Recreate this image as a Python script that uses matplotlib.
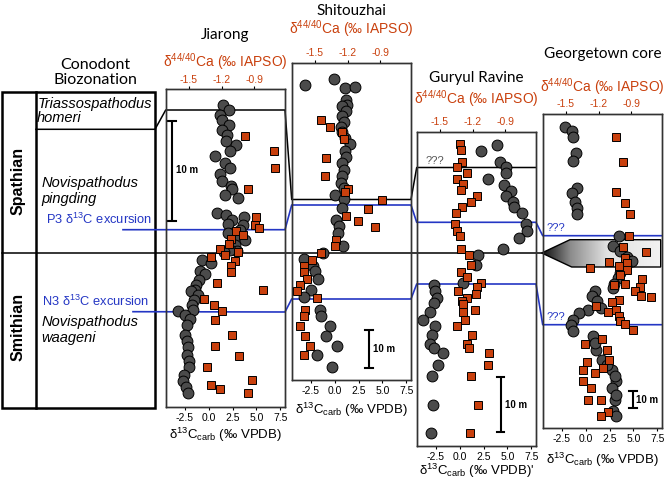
import numpy as np
import matplotlib as mpl
import matplotlib.pyplot as plt
from matplotlib.patches import Polygon, Rectangle
from matplotlib.colors import LinearSegmentedColormap

mpl.rcParams['axes.unicode_minus'] = False
mpl.rcParams['mathtext.fontset'] = 'custom'
mpl.rcParams['mathtext.rm'] = 'Liberation Sans'
mpl.rcParams['mathtext.it'] = 'Liberation Sans:italic'
mpl.rcParams['mathtext.bf'] = 'Liberation Sans:bold'
plt.rcParams['font.family'] = ['Liberation Sans', 'DejaVu Sans']

# ---- data: d13C (circles) and d44/40Ca (squares) vs height (m) ----
jr_c13 = [1.51, 2.11, 1.17, 1.44, 2.14, 1.44, 1.93, 1.86, 2.84, 2.28, 0.65, 1.72, 2.28, 1.17, 1.44,
          2.38, 2.46, 1.76, 3.11, 0.92, 1.86, 2.46, 3.68, 2.04, 3.61, 3.32, 2.91, 3.78, 2.74, 2.98,
          2.22, 2.04, 1.62, -0.65, 0.29, -0.92, -0.40, -1.00, -1.28, -1.45, -1.80, -1.10, -1.55, -1.70,
          -1.62, -3.19, -2.49, -1.97, -2.25, -2.49, -2.25, -2.15, -2.25, -2.04, -2.04, -2.60, -2.67,
          -2.39, -2.15]
jr_c_h = [30.2, 29.7, 29.2, 28.7, 28.2, 27.7, 27.2, 26.6, 26.2, 25.6, 25.1, 24.4, 23.9, 23.3, 22.6,
          22.1, 21.8, 21.2, 20.9, 19.4, 19.2, 18.7, 19.0, 18.3, 18.2, 17.7, 17.1, 16.7, 16.2, 15.6,
          15.7, 17.4, 15.5, 14.7, 14.4, 13.6, 13.3, 12.7, 12.2, 11.7, 11.6, 11.2, 10.7, 10.2,
          9.7, 9.6, 9.2, 8.8, 8.2, 7.2, 6.6, 6.0, 5.2, 4.6, 4.0, 3.2, 2.6, 2.0, 1.4]
jr_ca = [-0.988, -0.72, -0.709, -0.958, -0.882, -0.897, -0.86, -1.07, -1.003, -1.11, -1.131, -1.21,
         -1.17, -1.049, -1.292, -1.079, -1.11, -1.11, -1.24, -0.821, -1.359, -1.27, -1.192, -1.261,
         -1.101, -1.261, -1.04, -1.329, -0.921, -1.292, -1.21, -0.958]
jr_ca_h = [27.1, 25.6, 23.9, 21.8, 19.0, 18.2, 17.9, 17.6, 17.2, 16.8, 16.3, 15.8, 15.2, 15.5, 15.0,
           14.6, 14.1, 13.5, 12.4, 11.7, 10.8, 10.2, 9.6, 8.7, 7.2, 6.1, 5.1, 4.0, 2.7, 2.2, 1.8, 1.4]

sh_c13 = [-3.11, -0.07, 1.08, 2.09, 1.15, 1.32, 0.80, 1.15, 0.80, 0.97, 0.63, 0.80, 1.08, 1.57, 1.08,
          1.22, 0.73, 0.97, 0.80, 0.63, 0.97, 0.03, 0.97, 0.73, 0.10, 0.45, 0.38, 0.87, -1.19, -3.21,
          -2.27, -2.06, -1.71, -2.51, -3.21, -1.57, -1.40, -0.49, -0.87, 0.21, -1.82, -0.25]
sh_c_h = [77.1, 78.6, 76.2, 76.5, 73.2, 71.9, 71.5, 70.2, 68.9, 67.5, 66.2, 64.9, 63.2, 61.6, 59.7,
          58.2, 56.7, 54.9, 53.2, 51.4, 50.1, 48.4, 47.3, 44.9, 41.9, 40.1, 38.4, 34.9, 33.1, 31.7,
          29.7, 28.4, 26.4, 23.6, 21.6, 18.4, 16.6, 14.0, 11.4, 8.8, 6.4, 3.3]
sh_ca = [-1.44, -1.363, -1.254, -1.233, -1.394, -1.406, -1.193, -1.224, -0.883, -1.011, -1.218,
         -1.105, -0.953, -1.309, -1.315, -1.44, -1.522, -1.598, -1.598, -1.567, -1.637, -1.658,
         -1.476, -1.588, -1.598, -1.637, -1.588, -1.546, -1.598]
sh_ca_h = [68.0, 66.2, 64.7, 63.0, 58.0, 53.2, 49.9, 49.1, 47.1, 44.6, 42.9, 41.4, 39.9, 36.6, 34.9,
           33.2, 31.3, 29.7, 28.2, 26.4, 24.9, 23.3, 21.4, 18.4, 16.6, 14.0, 11.4, 8.8, 6.4]

gr_c13 = [3.87, 2.19, 4.22, 4.81, 4.81, 2.96, 4.64, 5.33, 4.81, 5.61, 5.68, 6.55, 6.90, 7.01, 6.21,
          4.57, 1.92, 1.67, 0.38, -2.69, -2.62, -2.41, -2.69, -3.11, -3.80, -2.62, -2.86, -3.11,
          -2.69, -1.71, -2.27, -2.86, -2.76, -2.97]
gr_c_h = [54.7, 53.7, 51.7, 50.8, 49.6, 48.5, 47.5, 46.4, 45.5, 44.4, 43.4, 42.3, 40.4, 39.1, 37.9,
          35.9, 34.7, 32.9, 29.6, 29.3, 28.2, 26.9, 26.0, 24.4, 22.9, 21.8, 20.1, 18.5, 17.8, 16.9,
          14.8, 12.7, 7.5, 2.4]
gr_ca = [-1.315, -1.302, -1.293, -1.339, -1.254, -1.345, -1.284, -1.309, -1.163, -1.211, -1.293,
         -1.354, -1.363, -1.339, -1.315, -1.309, -1.233, -1.211, -1.302, -1.248, -1.126, -1.157,
         -1.333, -1.172, -1.248, -1.293, -1.284, -1.181, -1.284, -1.272, -1.345, -1.202, -1.254,
         -1.233, -1.05, -1.059, -1.211, -1.151, -1.224]
gr_ca_h = [54.9, 53.8, 51.7, 50.7, 49.7, 48.5, 47.6, 46.5, 45.5, 44.4, 43.4, 42.3, 40.4, 39.1, 38.1,
           35.9, 34.7, 32.9, 31.7, 30.8, 29.7, 29.0, 28.1, 27.6, 26.9, 26.4, 25.8, 24.8, 24.4, 23.0,
           21.8, 20.1, 18.5, 17.8, 16.9, 14.8, 12.7, 7.5, 2.4]

gt_c13 = [-2.16, -1.45, -1.29, -1.01, -1.29, -0.94, -1.45, -1.11, -0.87, -0.87, 3.49, 2.90, 3.60,
          4.36, 4.81, 4.22, 3.60, 3.42, 2.97, 2.83, 0.98, 0.63, 1.15, 1.57, 0.28, -0.66, -1.29, -1.57,
          -1.29, 0.73, 1.08, 1.67, 2.72, 3.17, 2.72, 3.07, 2.90, 3.17, 0.97, 2.19, 3.07, 3.17]
gt_c_h = [180.2, 177.7, 174.3, 164.7, 159.7, 143.7, 140.7, 135.1, 131.7, 128.3, 115.1, 108.8, 105.8,
          102.4, 99.8, 96.8, 92.8, 89.8, 86.4, 83.8, 81.9, 78.9, 75.9, 71.9, 70.8, 68.9, 64.9, 61.9,
          57.9, 54.9, 46.5, 40.9, 34.9, 27.9, 24.0, 16.9, 10.0, 7.4, 50.9, 37.9, 31.0, 19.9]
gt_ca = [-1.041, -0.98, -1.041, -0.959, -0.914, -0.92, -0.975, -0.762, -0.959, -1.102, -0.938,
         -1.014, -1.278, -0.938, -1.005, -0.807, -0.959, -1.06, -0.822, -0.868, -0.816, -0.725,
         -1.014, -1.075, -1.224, -1.117, -1.041, -1.017, -1.005, -0.956, -0.883, -1.172, -1.324,
         -1.126, -1.102, -1.303, -1.345, -1.163, -1.233, -1.34, -1.272, -1.293, -1.181, -1.111, -1.181]
gt_ca_h = [174.3, 159.1, 141.1, 134.7, 128.3, 115.1, 108.4, 105.2, 101.8, 99.2, 98.8, 96.8, 95.8,
           94.4, 91.8, 89.2, 86.4, 85.8, 84.4, 81.9, 79.2, 78.4, 76.5, 75.3, 73.2, 69.3, 70.8, 67.2,
           63.9, 62.5, 58.5, 53.3, 50.5, 46.5, 40.9, 39.3, 34.6, 35.9, 32.9, 27.9, 24.0, 16.9, 16.6,
           9.4, 7.0]

c13_ticks = [-2.5, 0.0, 2.5, 5.0, 7.5]
ca_ticks = [-1.5, -1.2, -0.9]

orange = '#c9400d'
blue = '#2436c4'
grey = '#4b4b4b'
W, H = 664, 483

xlab = r'δ$^{13}$C$_{\rm carb}$ (‰ VPDB)'
calab = r'δ$^{44/40}$Ca (‰ IAPSO)'

panels = [
    dict(title='Jiarong', box=(165.7, 89, 285, 407), top=31.8, c=(jr_c13, jr_c_h), s=(jr_ca, jr_ca_h),
         bar=(-3.84, 18.6), barlab=(-3.39, 23.7), ty=35, cay=62, xly=435, ptop=0.5, pbot=1.5, xl=xlab),
    dict(title='Shitouzhai', box=(291.7, 63, 411, 380), top=82.8, c=(sh_c13, sh_c_h), s=(sh_ca, sh_ca_h),
         bar=(3.59, 3.1), barlab=(4.04, 8.2), ty=11, cay=29, xly=410, ptop=1, pbot=1.5, xl=xlab),
    dict(title='Guryul Ravine', box=(416.7, 132, 536, 446), top=57.1, c=(gr_c13, gr_c_h), s=(gr_ca, gr_ca_h),
         bar=(4.29, 2.5), barlab=(4.7, 7.5), ty=78, cay=99, xly=471, ptop=1, pbot=2, xl=xlab + "'"),
    dict(title='Georgetown core', box=(542.7, 114, 662, 428), top=188.0, c=(gt_c13, gt_c_h), s=(gt_ca, gt_ca_h),
         bar=(4.98, 12.0), barlab=(5.3, 17.0), ty=54, cay=87, xly=460, ptop=1, pbot=1.5, xl=xlab),
]

fig = plt.figure(figsize=(W / 100, H / 100), dpi=100)
over = fig.add_axes([0, 0, 1, 1], zorder=0)
over.axis('off')

for p in panels:
    x0, y0, x1, y1 = p['box']
    ax = fig.add_axes([x0 / W, 1 - y1 / H, (x1 - x0) / W, (y1 - y0) / H], zorder=1)
    ax.patch.set_visible(False)
    ax.set_xlim(-4.5, 8.0)
    ax.set_ylim(0, p['top'])
    ax.set_yticks([])
    ax.set_xticks(c13_ticks)
    ax.set_xticklabels(['%.1f' % t for t in c13_ticks])
    ax.tick_params(axis='x', direction='out', length=2.5, width=0.8, labelsize=7.5, pad=p['pbot'])
    for sp in ax.spines.values():
        sp.set_color('#333333')
        sp.set_linewidth(1.0)
    ax.plot(p['c'][0], p['c'][1], 'o', ms=7.8, mfc=grey, mec='k', mew=0.7, clip_on=False)

    bx, bh = p['bar']
    ax.plot([bx, bx], [bh, bh + 10], color='k', lw=1.5, solid_capstyle='butt')
    for yy in (bh, bh + 10):
        ax.plot([bx - 0.4, bx + 0.4], [yy, yy], color='k', lw=1.5)
    ax.text(p['barlab'][0], p['barlab'][1], '10 m', fontsize=7, fontweight='bold', va='center')

    ax2 = ax.twiny()
    ax2.set_zorder(2)
    ax2.patch.set_visible(False)
    ax2.set_xlim(-1.71, -0.62)
    ax2.set_xticks(ca_ticks)
    ax2.set_xticklabels(['%.1f' % t for t in ca_ticks])
    ax2.tick_params(axis='x', direction='out', length=2.5, width=0.8, labelsize=7.5,
                    labelcolor=orange, pad=p['ptop'])
    for sp in ax2.spines.values():
        sp.set_color('#333333')
        sp.set_linewidth(1.0)
    ax2.plot(p['s'][0], p['s'][1], 's', ms=6.0, mfc=orange, mec='k', mew=0.7, clip_on=False)

    cx = (x0 + x1) / 2
    over.text(cx, p['ty'], p['title'], fontsize=11, family=['Lato', 'DejaVu Sans'],
              ha='center', va='center')
    over.text(cx, p['cay'], calab, fontsize=10, color=orange, ha='center', va='center')
    over.text(cx, p['xly'], p['xl'], fontsize=9.5, ha='center', va='center')

# ---- biozonation column and correlation lines ----
over.add_patch(Rectangle((2, 92), 153, 316, fill=False, ec='k', lw=1.8, zorder=3))
over.plot([36, 36], [92, 408], color='k', lw=1.8, zorder=3)
over.plot([36, 155, 165.7, 285, 291.7, 411, 416.7, 536],
          [129.3, 129.3, 110, 110, 199.5, 199.5, 167.5, 167.5], color='k', lw=1.1, zorder=3)
over.plot([2, 541.7], [253, 253], color='k', lw=1.1, zorder=3)
over.plot([123, 285, 291.7, 411, 416.7, 536, 542.7, 662],
          [229.7, 229.7, 205, 205, 222.3, 222.3, 235.7, 235.7], color=blue, lw=1.2, zorder=3)
over.plot([133, 285, 291.7, 411, 416.7, 536, 542.7, 662],
          [311.7, 312, 299, 299, 284, 284, 324.7, 324.7], color=blue, lw=1.2, zorder=3)

over.text(95.5, 65, 'Conodont', fontsize=11.5, family=['Lato', 'DejaVu Sans'], ha='center', va='center')
over.text(95.5, 80, 'Biozonation', fontsize=11.5, family=['Lato', 'DejaVu Sans'], ha='center', va='center')
over.text(18, 181, 'Spathian', fontsize=11.5, fontweight='bold', rotation=90, ha='center', va='center')
over.text(18, 327, 'Smithian', fontsize=11.5, fontweight='bold', rotation=90, ha='center', va='center')
over.text(38, 104, 'Triassospathodus', fontsize=10.5, style='italic', va='center')
over.text(37, 117.5, 'homeri', fontsize=10.5, style='italic', va='center')
over.text(41.5, 183, 'Novispathodus', fontsize=10.5, style='italic', va='center')
over.text(41.5, 199, 'pingding', fontsize=10.5, style='italic', va='center')
over.text(46, 219, r'P3 δ$^{13}$C excursion', fontsize=9.3, color=blue, va='center')
over.text(41.5, 301, r'N3 δ$^{13}$C excursion', fontsize=9.3, color=blue, va='center')
over.text(41.5, 322, 'Novispathodus', fontsize=10.5, style='italic', va='center')
over.text(41.5, 338, 'waageni', fontsize=10.5, style='italic', va='center')

over.text(426, 161, '???', fontsize=8, color='#555555', va='center')
over.text(547, 228, '???', fontsize=8, color=blue, va='center')
over.text(547, 317, '???', fontsize=8, color=blue, va='center')

# ---- Georgetown gap arrow ----
arrow = Polygon([(541.7, 253), (570, 239.7), (660.7, 239.7), (660.7, 267), (571.7, 267)],
                closed=True, fc='none', ec='k', lw=1.0, zorder=3)
over.add_patch(arrow)
cmap = LinearSegmentedColormap.from_list('gap', [(0, '#0e0e0e'), (0.24, '#8c8c8c'),
                                                 (0.55, '#e2e2e2'), (1, '#f2f2f2')])
img = over.imshow(np.linspace(0, 1, 256)[None, :], extent=[541.7, 660.7, 267, 239.7],
                  cmap=cmap, vmin=0, vmax=1, aspect='auto', zorder=2)
img.set_clip_path(arrow)

over.set_xlim(0, W)
over.set_ylim(H, 0)

fig.savefig('out.png', dpi=100)
